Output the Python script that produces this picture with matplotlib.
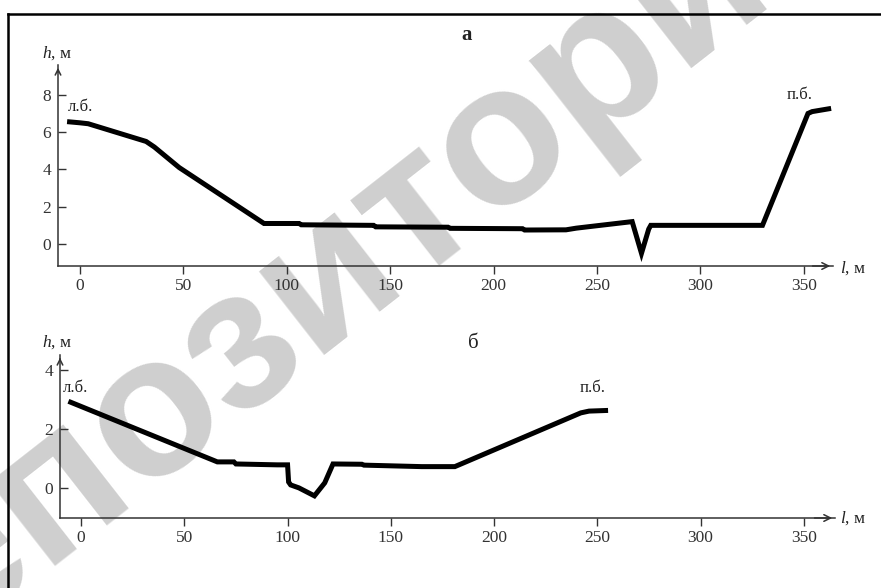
import numpy as np
import matplotlib
matplotlib.use("Agg")
import matplotlib.pyplot as plt
from matplotlib.lines import Line2D

plt.rcParams['font.family'] = ['Liberation Serif', 'DejaVu Serif']
plt.rcParams['mathtext.fontset'] = 'custom'
plt.rcParams['mathtext.it'] = 'Liberation Serif:italic'
plt.rcParams['mathtext.rm'] = 'Liberation Serif'

# профиль а
a_l = [-5, 0, 4, 32, 36, 48, 89, 106, 107, 142, 143, 178, 179, 214, 215, 235,
       240, 250, 267, 271.5, 275, 276, 330, 352, 354, 362]
a_h = [6.55, 6.5, 6.45, 5.5, 5.2, 4.1, 1.1, 1.1, 1.03, 1.0, 0.92, 0.9, 0.84,
       0.82, 0.75, 0.76, 0.85, 0.98, 1.2, -0.5, 0.8, 1.0, 1.0, 7.0, 7.1, 7.25]

# профиль б
b_l = [-5, 66, 74, 75, 95, 100, 100.5, 101.5, 105.5, 113, 118, 122, 136, 137,
       165, 181, 242, 246, 254]
b_h = [2.9, 0.88, 0.88, 0.81, 0.78, 0.78, 0.2, 0.1, 0.0, -0.27, 0.17, 0.81,
       0.8, 0.77, 0.72, 0.72, 2.54, 2.6, 2.62]

x_ticks = [0, 50, 100, 150, 200, 250, 300, 350]
a_yticks = [0, 2, 4, 6, 8]
b_yticks = [0, 2, 4]

W, H = 881, 588
fig = plt.figure(figsize=(W / 100, H / 100), dpi=100)

# водяной знак
fig.text(330 / W, 1 - 272 / H, "Репозиторий", fontsize=145, rotation=38,
         rotation_mode='anchor', ha='center', va='center', color='#cfcfcf',
         family=['Liberation Sans', 'DejaVu Sans'], fontweight='bold', zorder=-10)

# рамка
fig.add_artist(Line2D([8 / W, 8 / W], [0, 1 - 14 / H], color='black', lw=1.8))
fig.add_artist(Line2D([8 / W, 1], [1 - 14 / H, 1 - 14 / H], color='black', lw=1.8))


def make_axes(rect, xlim, ylim, yticks, l, h):
    ax = fig.add_axes(rect)
    ax.patch.set_alpha(0)
    ax.plot(l, h, color='black', lw=3.6, solid_joinstyle='miter', zorder=3)
    ax.set_xlim(*xlim)
    ax.set_ylim(*ylim)
    ax.set_xticks(x_ticks)
    ax.set_yticks(yticks)
    for s in ['top', 'right']:
        ax.spines[s].set_visible(False)
    for s in ['left', 'bottom']:
        ax.spines[s].set_color('#333333')
        ax.spines[s].set_linewidth(1.1)
    ax.tick_params(axis='x', direction='out', length=6, width=1, colors='#333333',
                   labelsize=12.5, pad=3)
    ax.tick_params(axis='y', direction='in', length=6, width=1, colors='#333333',
                   labelsize=12.5, pad=5)
    # стрелки осей
    ax.annotate('', xy=(1, 0), xytext=(0.97, 0), xycoords='axes fraction',
                arrowprops=dict(arrowstyle='->', lw=1.1, color='#333333',
                                mutation_scale=12))
    ax.annotate('', xy=(0, 1), xytext=(0, 0.95), xycoords='axes fraction',
                arrowprops=dict(arrowstyle='->', lw=1.1, color='#333333',
                                mutation_scale=10))
    return ax


ax1 = make_axes([58 / W, 1 - 266 / H, 775 / W, 201 / H], (-10.6, 364.1),
                (-1.18, 9.6), a_yticks, a_l, a_h)
ax1.text(-5.8, 7.35, "л.б.", fontsize=12, va='center', ha='left', color='#222222')
ax1.text(341.9, 8.0, "п.б.", fontsize=12, va='center', ha='left', color='#222222')

ax2 = make_axes([60 / W, 1 - 518 / H, 775 / W, 163 / H], (-10.2, 365.1),
                (-1.02, 4.5), b_yticks, b_l, b_h)
ax2.text(-8.7, 3.39, "л.б.", fontsize=12, va='center', ha='left', color='#222222')
ax2.text(241.6, 3.39, "п.б.", fontsize=12, va='center', ha='left', color='#222222')

# подписи осей и панелей
for y in [53, 342]:
    fig.text(42 / W, 1 - y / H, "$h$, м", fontsize=12.5, ha='left', va='center',
             color='#222222')
for y in [268, 518]:
    fig.text(840 / W, 1 - y / H, "$l$, м", fontsize=12.5, ha='left', va='center',
             color='#222222')
fig.text(467 / W, 1 - 35 / H, "а", fontsize=15, fontweight='bold', ha='center',
         va='center', color='#222222')
fig.text(473 / W, 1 - 343 / H, "б", fontsize=15, ha='center', va='center',
         color='#222222')

fig.savefig("out.png", dpi=100)
